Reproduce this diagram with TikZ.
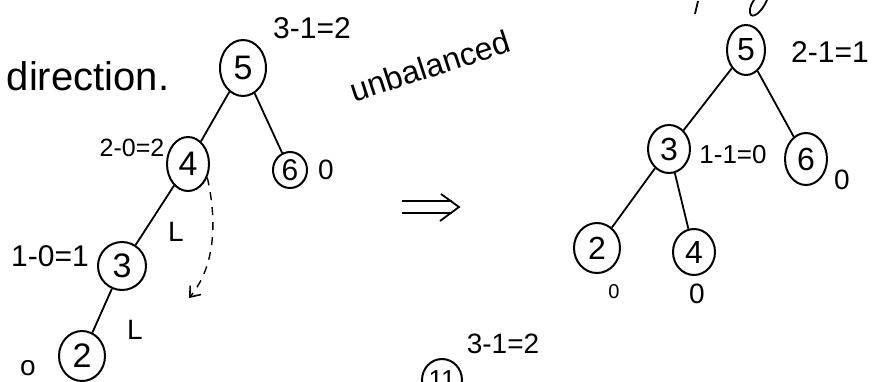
\documentclass[tikz,border=0pt]{standalone}
\usepackage{fontspec}
\setmainfont{Liberation Sans}
\usetikzlibrary{shapes.geometric,arrows.meta}
\begin{document}
\begin{tikzpicture}[x=1pt,y=-1pt,
  nd/.style={draw,ellipse,line width=2pt,inner sep=0pt,font=\fontsize{34}{34}\selectfont},
  ndsm/.style={nd,font=\fontsize{32}{32}\selectfont},
  lbl/.style={font=\fontsize{28}{28}\selectfont,inner sep=0pt},
  edge/.style={line width=1.8pt}]
\useasboundingbox (0,0) rectangle (878,381);
\fill[white] (0,0) rectangle (878,381);
\begin{scope}
\clip (0,0) rectangle (878,381);
% left tree
\node[lbl,font=\fontsize{40}{40}\selectfont] (dir) at (88,76) {direction.};
\node[nd,minimum width=46pt,minimum height=56pt] (L5) at (243,68) {5};
\node[nd,minimum width=42pt,minimum height=54pt] (L4) at (188,164) {4};
\node[nd,minimum width=34pt,minimum height=36pt,font=\fontsize{30}{30}\selectfont] (L6) at (290,170) {6};
\node[nd,minimum width=48pt,minimum height=48pt] (L3) at (122,266) {3};
\node[nd,minimum width=46pt,minimum height=50pt] (L2) at (82,356) {2};
\draw[edge] (L5) -- (L4);
\draw[edge] (L5) -- (L6);
\draw[edge] (L4) -- (L3);
\draw[edge] (L3) -- (L2);
\node[lbl,font=\fontsize{30}{30}\selectfont] (bL5) at (312,28) {3-1=2};
\node[lbl,font=\fontsize{25}{25}\selectfont] (bL4) at (132,148) {2-0=2};
\node[lbl] (bL6) at (326,170) {0};
\node[lbl,font=\fontsize{30}{30}\selectfont] (bL3) at (50,256) {1-0=1};
\node[lbl] (bL2) at (28,368) {o};
\node[lbl] (r1) at (176,232) {L};
\node[lbl] (r2) at (135,330) {L};
\coordinate (dEnd) at (189,298);
\draw[line width=1.4pt,dashed,dash pattern=on 8pt off 7pt,-{Straight Barb[length=9pt,width=14pt,line width=1.6pt]}]
  (L4.-35) .. controls (218,225) and (214,268) .. (dEnd);
\node[lbl,font=\fontsize{32}{32}\selectfont,rotate=18] (unb) at (430,66) {unbalanced};
% middle arrow
\coordinate (aS1) at (402,201);
\coordinate (aE1) at (452,201);
\coordinate (aS2) at (402,213);
\coordinate (aE2) at (452,213);
\coordinate (aTip) at (459,207);
\draw[line width=1.8pt] (aS1) -- (aE1) (aS2) -- (aE2);
\draw[line width=1.8pt] (441,194) -- (aTip) -- (440,221);
% bottom partial node
\node[lbl,font=\fontsize{28}{28}\selectfont] (b11) at (503,344) {3-1=2};
\node[nd,minimum width=40pt,minimum height=42pt,font=\fontsize{26}{26}\selectfont] (N11) at (442,380) {11};
% right tree
\node[ndsm,minimum width=38pt,minimum height=50pt] (R5) at (746,50) {5};
\node[ndsm,minimum width=42pt,minimum height=48pt] (R3) at (669,149) {3};
\node[ndsm,minimum width=42pt,minimum height=52pt] (R6) at (806,159) {6};
\node[ndsm,minimum width=46pt,minimum height=50pt] (R2) at (597,248) {2};
\node[ndsm,minimum width=42pt,minimum height=46pt] (R4) at (694,252) {4};
\draw[edge] (R5) -- (R3);
\draw[edge] (R5) -- (R6);
\draw[edge] (R3) -- (R2);
\draw[edge] (R3) -- (R4);
\node[lbl,font=\fontsize{30}{30}\selectfont] (bR5) at (830,52) {2-1=1};
\node[lbl,font=\fontsize{26}{26}\selectfont] (bR3) at (733,155) {1-1=0};
\node[lbl] (bR6) at (842,180) {0};
\node[lbl,font=\fontsize{20}{20}\selectfont] (bR2) at (614,292) {0};
\node[lbl] (bR4) at (697,294) {0};
% fragments from the previous line
\draw[line width=1.8pt] (698,1) -- (695,14);
\draw[line width=1.8pt] (767,0) .. controls (762,12) and (752,20) .. (750,13) .. controls (749,8) and (752,3) .. (754,0);
\end{scope}
\end{tikzpicture}
\end{document}
